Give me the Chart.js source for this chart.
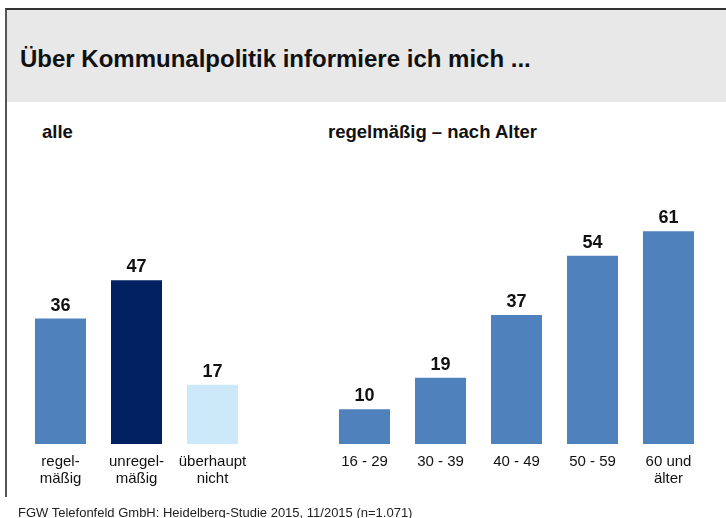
<!DOCTYPE html>
<html>
<head>
<meta charset="utf-8">
<script src="https://cdn.jsdelivr.net/npm/chart.js@4.4.0/dist/chart.umd.min.js"></script>
<style>
  body { margin: 0; width: 726px; height: 518px; overflow: hidden; background: #fff; font-family: "Liberation Sans", Arial, sans-serif; position: relative; }
  #frame { position: absolute; left: 5px; top: 8px; width: 721px; height: 489px; border-top: 2px solid #333; border-left: 2px solid #555; box-sizing: border-box; }
  #band { position: absolute; left: 7px; top: 10px; width: 719px; height: 92px; background: #e8e8e8; }
  #title { position: absolute; left: 20px; top: 45px; font-size: 24px; font-weight: bold; color: #111; white-space: nowrap; }
  .sub { position: absolute; top: 121px; font-size: 18.5px; font-weight: bold; color: #111; white-space: nowrap; }
  #foot { position: absolute; left: 18px; top: 505px; font-size: 13px; color: #222; white-space: nowrap; }
  #chart { position: absolute; left: 0; top: 0; }
</style>
</head>
<body>
<div id="frame"></div>
<div id="band"></div>
<div id="title">Über Kommunalpolitik informiere ich mich ...</div>
<div class="sub" style="left:42px">alle</div>
<div class="sub" style="left:328px">regelmäßig – nach Alter</div>
<canvas id="chart" width="726" height="518"></canvas>
<div id="foot">FGW Telefonfeld GmbH: Heidelberg-Studie 2015, 11/2015 (n=1.071)</div>
<script>
// linke Gruppe: alle, rechte Gruppe: regelmäßig nach Alter (leere Spalte dazwischen)
const kategorien = [
  ["regel-", "mäßig"], ["unregel-", "mäßig"], ["überhaupt", "nicht"],
  "",
  "16 - 29", "30 - 39", "40 - 49", "50 - 59", ["60 und", "älter"]
];
const werte = [36, 47, 17, null, 10, 19, 37, 54, 61];
const farben = ["#4f81bd", "#002060", "#cce9fa", "#ffffff", "#4f81bd", "#4f81bd", "#4f81bd", "#4f81bd", "#4f81bd"];

const wertLabels = {
  id: "wertLabels",
  afterDatasetsDraw(chart) {
    const ctx = chart.ctx;
    const meta = chart.getDatasetMeta(0);
    ctx.save();
    ctx.font = "bold 18px 'Liberation Sans', Arial, sans-serif";
    ctx.fillStyle = "#111";
    ctx.textAlign = "center";
    ctx.textBaseline = "alphabetic";
    meta.data.forEach((bar, i) => {
      if (werte[i] == null) return;
      ctx.fillText(werte[i], bar.x, bar.y - 8);
    });
    ctx.restore();
  }
};

new Chart(document.getElementById("chart").getContext("2d"), {
  type: "bar",
  data: {
    labels: kategorien,
    datasets: [{
      data: werte,
      backgroundColor: farben,
      borderWidth: 0,
      barPercentage: 51 / 76,
      categoryPercentage: 1
    }]
  },
  options: {
    responsive: false,
    animation: false,
    layout: { padding: { left: 22.5, right: 19.5, top: 200, bottom: 24 } },
    plugins: { legend: { display: false }, tooltip: { enabled: false } },
    scales: {
      x: {
        grid: { display: false, drawTicks: false },
        border: { display: false },
        ticks: {
          color: "#111",
          padding: 9,
          maxRotation: 0,
          autoSkip: false,
          font: { size: 15, family: "'Liberation Sans', Arial, sans-serif", lineHeight: 1.15 }
        },
        afterFit: s => { s.height = 50; }
      },
      y: {
        display: false,
        min: 0,
        max: 70
      }
    }
  },
  plugins: [wertLabels]
});
</script>
</body>
</html>
